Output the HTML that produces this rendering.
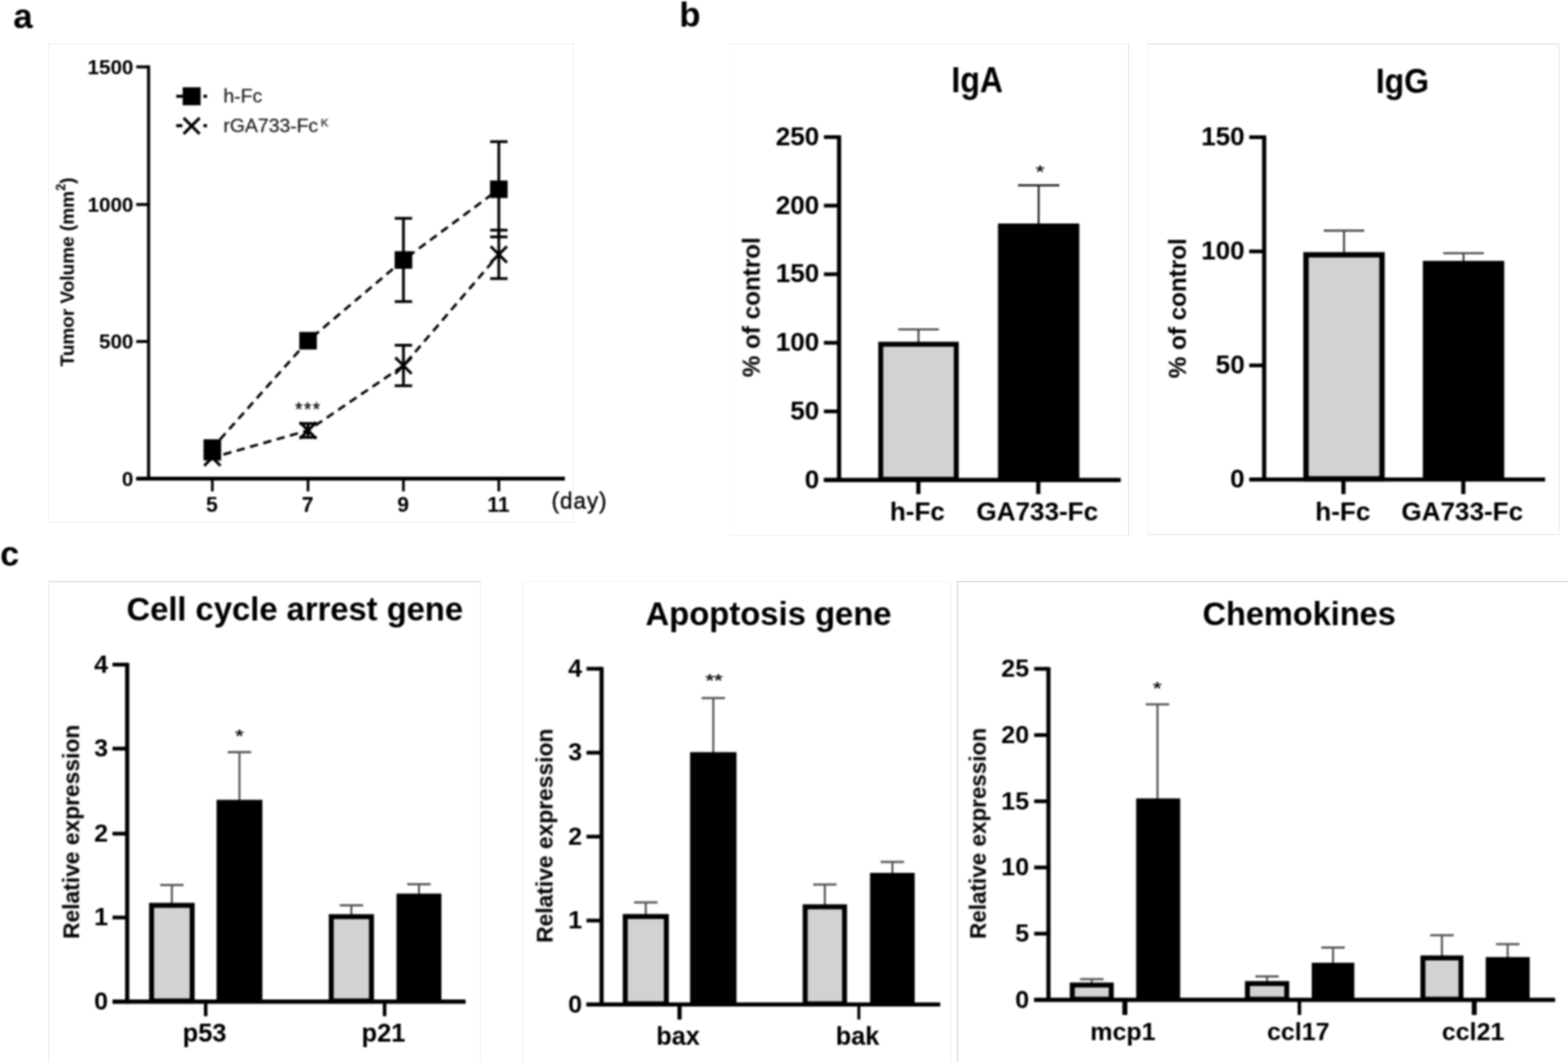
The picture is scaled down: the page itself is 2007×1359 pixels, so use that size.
<!DOCTYPE html>
<html lang="en">
<head>
<meta charset="utf-8">
<title>Figure: tumor volume, IgA/IgG and gene expression</title>
<style>
html, body { margin: 0; padding: 0; background: #ffffff; }
body { width: 2007px; height: 1359px; overflow: hidden; }
svg { display: block; font-family: "Liberation Sans", Arial, Helvetica, sans-serif; }
svg text { font-family: "Liberation Sans", Arial, Helvetica, sans-serif; }
#fig { filter: blur(0.8px); }
</style>
</head>
<body>
<svg width="2007" height="1359" viewBox="0 0 2007 1359">
<rect x="0" y="0" width="2007" height="1359" fill="#ffffff"/>
<g id="frame">
<line x1="62.3" y1="56.3" x2="734.1" y2="56.3" stroke="#f3f3f3" stroke-width="1.5" stroke-linecap="square"/>
<line x1="62.3" y1="668.2" x2="734.1" y2="668.2" stroke="#f3f3f3" stroke-width="1.5" stroke-linecap="square"/>
<line x1="62.3" y1="56.3" x2="62.3" y2="668.2" stroke="#f3f3f3" stroke-width="1.5" stroke-linecap="square"/>
<line x1="734.1" y1="56.3" x2="734.1" y2="668.2" stroke="#f3f3f3" stroke-width="1.5" stroke-linecap="square"/>
<line x1="933.5" y1="55.8" x2="1444.5" y2="55.8" stroke="#f4f4f4" stroke-width="1.5" stroke-linecap="square"/>
<line x1="933.5" y1="685" x2="1444.5" y2="685" stroke="#f4f4f4" stroke-width="1.5" stroke-linecap="square"/>
<line x1="1444.5" y1="55.8" x2="1444.5" y2="685" stroke="#e9e9e9" stroke-width="1.5" stroke-linecap="square"/>
<line x1="933.5" y1="55.8" x2="933.5" y2="685" stroke="#fcfcfc" stroke-width="1.5" stroke-linecap="square"/>
<line x1="1468.8" y1="56.5" x2="1995.6" y2="56.5" stroke="#e4e4e4" stroke-width="1.5" stroke-linecap="square"/>
<line x1="1468.8" y1="684.2" x2="1995.6" y2="684.2" stroke="#efefef" stroke-width="1.5" stroke-linecap="square"/>
<line x1="1995.6" y1="56.5" x2="1995.6" y2="684.2" stroke="#efefef" stroke-width="1.5" stroke-linecap="square"/>
<line x1="1468.8" y1="56.5" x2="1468.8" y2="684.2" stroke="#f6f6f6" stroke-width="1.5" stroke-linecap="square"/>
<line x1="62.5" y1="744.2" x2="614.8" y2="744.2" stroke="#dfdfdf" stroke-width="1.5" stroke-linecap="square"/>
<line x1="62.5" y1="744.2" x2="62.5" y2="1362" stroke="#efefef" stroke-width="1.5" stroke-linecap="square"/>
<line x1="614.8" y1="744.2" x2="614.8" y2="1362" stroke="#f5f5f5" stroke-width="1.5" stroke-linecap="square"/>
<line x1="669" y1="744.3" x2="1216.8" y2="744.3" stroke="#f9f9f9" stroke-width="1.5" stroke-linecap="square"/>
<line x1="669" y1="744.3" x2="669" y2="1362" stroke="#f3f3f3" stroke-width="1.5" stroke-linecap="square"/>
<line x1="1216.8" y1="744.3" x2="1216.8" y2="1362" stroke="#f3f3f3" stroke-width="1.5" stroke-linecap="square"/>
<line x1="1225.5" y1="744.3" x2="2010" y2="744.3" stroke="#dcdcdc" stroke-width="1.5" stroke-linecap="square"/>
<line x1="1225.5" y1="744.3" x2="1225.5" y2="1362" stroke="#dcdcdc" stroke-width="1.5" stroke-linecap="square"/>
</g>
<g id="fig">
<text transform="translate(17 35.5)" font-size="44.5" font-weight="bold" text-anchor="start" fill="#000"  stroke="#000" stroke-width="0.05" stroke-linejoin="round">a</text>
<text transform="translate(869.4 34.2)" font-size="44.5" font-weight="bold" text-anchor="start" fill="#000"  stroke="#000" stroke-width="0.05" stroke-linejoin="round">b</text>
<text transform="translate(0.3 724.3)" font-size="43.5" font-weight="bold" text-anchor="start" fill="#000"  stroke="#000" stroke-width="0.05" stroke-linejoin="round">c</text>
<line x1="190.2" y1="83.8" x2="190.2" y2="614.5" stroke="#000" stroke-width="3.95" />
<line x1="174.4" y1="612.5" x2="723" y2="612.5" stroke="#000" stroke-width="4.95" />
<line x1="174.4" y1="612.5" x2="190.2" y2="612.5" stroke="#000" stroke-width="3.85" />
<text transform="translate(170.8 621.5)" font-size="26.4" font-weight="bold" text-anchor="end" fill="#000"  stroke="#000" stroke-width="0.05" stroke-linejoin="round">0</text>
<line x1="174.4" y1="437" x2="190.2" y2="437" stroke="#000" stroke-width="3.85" />
<text transform="translate(170.8 446)" font-size="26.4" font-weight="bold" text-anchor="end" fill="#000"  stroke="#000" stroke-width="0.05" stroke-linejoin="round">500</text>
<line x1="174.4" y1="261.7" x2="190.2" y2="261.7" stroke="#000" stroke-width="3.85" />
<text transform="translate(170.8 270.7)" font-size="26.4" font-weight="bold" text-anchor="end" fill="#000"  stroke="#000" stroke-width="0.05" stroke-linejoin="round">1000</text>
<line x1="174.4" y1="85.6" x2="190.2" y2="85.6" stroke="#000" stroke-width="3.85" />
<text transform="translate(170.8 94.6)" font-size="26.4" font-weight="bold" text-anchor="end" fill="#000"  stroke="#000" stroke-width="0.05" stroke-linejoin="round">1500</text>
<line x1="271.8" y1="612.5" x2="271.8" y2="628.8" stroke="#000" stroke-width="3.45" />
<text transform="translate(271.3 655)" font-size="27" font-weight="bold" text-anchor="middle" fill="#000"  stroke="#000" stroke-width="0.05" stroke-linejoin="round">5</text>
<line x1="394.3" y1="612.5" x2="394.3" y2="628.8" stroke="#000" stroke-width="3.45" />
<text transform="translate(393.8 655)" font-size="27" font-weight="bold" text-anchor="middle" fill="#000"  stroke="#000" stroke-width="0.05" stroke-linejoin="round">7</text>
<line x1="516.4" y1="612.5" x2="516.4" y2="628.8" stroke="#000" stroke-width="3.45" />
<text transform="translate(515.9 655)" font-size="27" font-weight="bold" text-anchor="middle" fill="#000"  stroke="#000" stroke-width="0.05" stroke-linejoin="round">9</text>
<line x1="638.5" y1="612.5" x2="638.5" y2="628.8" stroke="#000" stroke-width="3.45" />
<text transform="translate(638 655)" font-size="27" font-weight="bold" text-anchor="middle" fill="#000"  stroke="#000" stroke-width="0.05" stroke-linejoin="round">11</text>
<text transform="translate(706 651.3)" font-size="28.8" font-weight="normal" text-anchor="start" fill="#000" letter-spacing="1.2"  stroke="#000" stroke-width="0.45" stroke-linejoin="round">(day)</text>
<text transform="translate(94.5 348) rotate(-90)" font-size="24.3" font-weight="bold" text-anchor="middle" fill="#000"  stroke="#000" stroke-width="0.05" stroke-linejoin="round">Tumor Volume (mm<tspan font-size="16.5" dy="-11.5">2</tspan><tspan dy="11.5">)</tspan></text>
<polyline points="271.8,573.4 394.3,436 516.4,332.7 638.5,242.2" stroke="#000" stroke-width="3.3" stroke-dasharray="10.6 7.1" stroke-dashoffset="3" stroke-linecap="butt" fill="none"/>
<polyline points="271.8,585.6 394.3,550.8 516.4,467.9 638.5,325.6" stroke="#000" stroke-width="3.3" stroke-dasharray="10.6 7.1" stroke-dashoffset="3" stroke-linecap="butt" fill="none"/>
<line x1="516.4" y1="279.4" x2="516.4" y2="385.9" stroke="#000" stroke-width="3.55" />
<line x1="505.25" y1="279.4" x2="527.55" y2="279.4" stroke="#000" stroke-width="3.55" />
<line x1="505.25" y1="385.9" x2="527.55" y2="385.9" stroke="#000" stroke-width="3.55" />
<line x1="638.5" y1="181.3" x2="638.5" y2="303.1" stroke="#000" stroke-width="3.55" />
<line x1="627.35" y1="181.3" x2="649.65" y2="181.3" stroke="#000" stroke-width="3.55" />
<line x1="627.35" y1="303.1" x2="649.65" y2="303.1" stroke="#000" stroke-width="3.55" />
<line x1="394.3" y1="541.9" x2="394.3" y2="559.7" stroke="#000" stroke-width="3.55" />
<line x1="383.15" y1="541.9" x2="405.45" y2="541.9" stroke="#000" stroke-width="3.55" />
<line x1="383.15" y1="559.7" x2="405.45" y2="559.7" stroke="#000" stroke-width="3.55" />
<line x1="271.8" y1="584.2" x2="271.8" y2="587.5" stroke="#000" stroke-width="3.55" />
<line x1="260.65" y1="584.2" x2="282.95" y2="584.2" stroke="#000" stroke-width="3.55" />
<line x1="260.65" y1="587.5" x2="282.95" y2="587.5" stroke="#000" stroke-width="3.55" />
<line x1="516.4" y1="441.8" x2="516.4" y2="493.6" stroke="#000" stroke-width="3.55" />
<line x1="505.25" y1="441.8" x2="527.55" y2="441.8" stroke="#000" stroke-width="3.55" />
<line x1="505.25" y1="493.6" x2="527.55" y2="493.6" stroke="#000" stroke-width="3.55" />
<line x1="638.5" y1="294.5" x2="638.5" y2="356.5" stroke="#000" stroke-width="3.55" />
<line x1="627.35" y1="294.5" x2="649.65" y2="294.5" stroke="#000" stroke-width="3.55" />
<line x1="627.35" y1="356.5" x2="649.65" y2="356.5" stroke="#000" stroke-width="3.55" />
<line x1="261.4" y1="575.2" x2="282.2" y2="596" stroke="#000" stroke-width="3.65" />
<line x1="261.4" y1="596" x2="282.2" y2="575.2" stroke="#000" stroke-width="3.65" />
<line x1="383.9" y1="540.4" x2="404.7" y2="561.2" stroke="#000" stroke-width="3.65" />
<line x1="383.9" y1="561.2" x2="404.7" y2="540.4" stroke="#000" stroke-width="3.65" />
<line x1="506" y1="457.5" x2="526.8" y2="478.3" stroke="#000" stroke-width="3.65" />
<line x1="506" y1="478.3" x2="526.8" y2="457.5" stroke="#000" stroke-width="3.65" />
<line x1="628.1" y1="315.2" x2="648.9" y2="336" stroke="#000" stroke-width="3.65" />
<line x1="628.1" y1="336" x2="648.9" y2="315.2" stroke="#000" stroke-width="3.65" />
<rect x="260.55" y="562.15" width="22.5" height="22.5" fill="#000"/>
<rect x="383.05" y="424.75" width="22.5" height="22.5" fill="#000"/>
<rect x="505.15" y="321.45" width="22.5" height="22.5" fill="#000"/>
<rect x="627.25" y="230.95" width="22.5" height="22.5" fill="#000"/>
<text transform="translate(394.8 531.5)" font-size="23" font-weight="normal" text-anchor="middle" fill="#111" letter-spacing="2.2"  stroke="#111" stroke-width="0.6" stroke-linejoin="round">***</text>
<line x1="225.6" y1="123.2" x2="235" y2="123.2" stroke="#000" stroke-width="3.95" />
<line x1="260.3" y1="123.2" x2="265" y2="123.2" stroke="#000" stroke-width="3.95" />
<rect x="233.8" y="111.7" width="23" height="23" fill="#000"/>
<line x1="225.6" y1="160.8" x2="233.5" y2="160.8" stroke="#000" stroke-width="3.95" />
<line x1="260.3" y1="160.8" x2="265" y2="160.8" stroke="#000" stroke-width="3.95" />
<line x1="235.05" y1="150.85" x2="255.55" y2="171.35" stroke="#000" stroke-width="3.65" />
<line x1="235.05" y1="171.35" x2="255.55" y2="150.85" stroke="#000" stroke-width="3.65" />
<text transform="translate(286 130.8)" font-size="24.8" font-weight="normal" text-anchor="start" fill="#222"  stroke="#222" stroke-width="0.3" stroke-linejoin="round">h-Fc</text>
<text transform="translate(286 168.8)" font-size="24.8" font-weight="normal" text-anchor="start" fill="#222"  stroke="#222" stroke-width="0.3" stroke-linejoin="round">rGA733-Fc</text>
<text transform="translate(410.6 161.8)" font-size="14" font-weight="bold" text-anchor="start" fill="#444" >K</text>
<text transform="translate(1250.8 117.6) scale(0.975 1.09)" font-size="42" font-weight="bold" text-anchor="middle" fill="#000"  stroke="#000" stroke-width="0.05" stroke-linejoin="round">IgA</text>
<line x1="1074" y1="173.15" x2="1074" y2="616.7" stroke="#000" stroke-width="5.35" />
<line x1="1054.6" y1="614.2" x2="1434.5" y2="614.2" stroke="#000" stroke-width="5.35" />
<line x1="1054.6" y1="614.2" x2="1074" y2="614.2" stroke="#000" stroke-width="4.85" />
<text transform="translate(1048.6 624.6)" font-size="33.4" font-weight="bold" text-anchor="end" fill="#000"  stroke="#000" stroke-width="0.05" stroke-linejoin="round">0</text>
<line x1="1054.6" y1="526.44" x2="1074" y2="526.44" stroke="#000" stroke-width="4.85" />
<text transform="translate(1048.6 536.84)" font-size="33.4" font-weight="bold" text-anchor="end" fill="#000"  stroke="#000" stroke-width="0.05" stroke-linejoin="round">50</text>
<line x1="1054.6" y1="438.68" x2="1074" y2="438.68" stroke="#000" stroke-width="4.85" />
<text transform="translate(1048.6 449.08)" font-size="33.4" font-weight="bold" text-anchor="end" fill="#000"  stroke="#000" stroke-width="0.05" stroke-linejoin="round">100</text>
<line x1="1054.6" y1="350.92" x2="1074" y2="350.92" stroke="#000" stroke-width="4.85" />
<text transform="translate(1048.6 361.32)" font-size="33.4" font-weight="bold" text-anchor="end" fill="#000"  stroke="#000" stroke-width="0.05" stroke-linejoin="round">150</text>
<line x1="1054.6" y1="263.16" x2="1074" y2="263.16" stroke="#000" stroke-width="4.85" />
<text transform="translate(1048.6 273.56)" font-size="33.4" font-weight="bold" text-anchor="end" fill="#000"  stroke="#000" stroke-width="0.05" stroke-linejoin="round">200</text>
<line x1="1054.6" y1="175.4" x2="1074" y2="175.4" stroke="#000" stroke-width="4.85" />
<text transform="translate(1048.6 185.8)" font-size="33.4" font-weight="bold" text-anchor="end" fill="#000"  stroke="#000" stroke-width="0.05" stroke-linejoin="round">250</text>
<line x1="1175.5" y1="614.2" x2="1175.5" y2="632.2" stroke="#000" stroke-width="5.35" />
<text transform="translate(1174.2 665.6) scale(1 1.02)" font-size="33.4" font-weight="bold" text-anchor="middle" fill="#000"  stroke="#000" stroke-width="0.05" stroke-linejoin="round">h-Fc</text>
<line x1="1329" y1="614.2" x2="1329" y2="632.2" stroke="#000" stroke-width="5.35" />
<text transform="translate(1327.6 665.6) scale(1 1.02)" font-size="33.4" font-weight="bold" text-anchor="middle" fill="#000"  stroke="#000" stroke-width="0.05" stroke-linejoin="round">GA733-Fc</text>
<line x1="1175.65" y1="421.5" x2="1175.65" y2="438.5" stroke="#333" stroke-width="2.35" />
<line x1="1149.65" y1="421.5" x2="1201.65" y2="421.5" stroke="#444" stroke-width="2.65" />
<rect x="1127.3" y="440.5" width="96.7" height="172.9" fill="#d2d2d2" stroke="#000" stroke-width="6.35"/>
<line x1="1329.45" y1="237.1" x2="1329.45" y2="287" stroke="#111" stroke-width="2.35" />
<line x1="1302.95" y1="237.1" x2="1355.95" y2="237.1" stroke="#222" stroke-width="2.65" />
<rect x="1277.4" y="286" width="104.1" height="328.2" fill="#000"/>
<text transform="translate(1331.2 226.5) scale(1.18 0.92)" font-size="24" font-weight="normal" text-anchor="middle" fill="#111"  stroke="#111" stroke-width="0.6" stroke-linejoin="round">*</text>
<text transform="translate(972.5 393.2) rotate(-90)" font-size="31" font-weight="bold" text-anchor="middle" fill="#000"  stroke="#000" stroke-width="0.05" stroke-linejoin="round">% of control</text>
<text transform="translate(1795 118.5) scale(0.975 1.06)" font-size="42" font-weight="bold" text-anchor="middle" fill="#000"  stroke="#000" stroke-width="0.05" stroke-linejoin="round">IgG</text>
<line x1="1618.1" y1="173.35" x2="1618.1" y2="616.1" stroke="#000" stroke-width="5.35" />
<line x1="1599" y1="613.6" x2="1977.7" y2="613.6" stroke="#000" stroke-width="5.35" />
<line x1="1599" y1="613.6" x2="1618.1" y2="613.6" stroke="#000" stroke-width="4.85" />
<text transform="translate(1593.2 624)" font-size="33.4" font-weight="bold" text-anchor="end" fill="#000"  stroke="#000" stroke-width="0.05" stroke-linejoin="round">0</text>
<line x1="1599" y1="467.6" x2="1618.1" y2="467.6" stroke="#000" stroke-width="4.85" />
<text transform="translate(1593.2 478)" font-size="33.4" font-weight="bold" text-anchor="end" fill="#000"  stroke="#000" stroke-width="0.05" stroke-linejoin="round">50</text>
<line x1="1599" y1="321.7" x2="1618.1" y2="321.7" stroke="#000" stroke-width="4.85" />
<text transform="translate(1593.2 332.1)" font-size="33.4" font-weight="bold" text-anchor="end" fill="#000"  stroke="#000" stroke-width="0.05" stroke-linejoin="round">100</text>
<line x1="1599" y1="175.6" x2="1618.1" y2="175.6" stroke="#000" stroke-width="4.85" />
<text transform="translate(1593.2 186)" font-size="33.4" font-weight="bold" text-anchor="end" fill="#000"  stroke="#000" stroke-width="0.05" stroke-linejoin="round">150</text>
<line x1="1719.6" y1="613.6" x2="1719.6" y2="632.3" stroke="#000" stroke-width="5.35" />
<text transform="translate(1718.8 665.6) scale(1 1.02)" font-size="33.4" font-weight="bold" text-anchor="middle" fill="#000"  stroke="#000" stroke-width="0.05" stroke-linejoin="round">h-Fc</text>
<line x1="1873" y1="613.6" x2="1873" y2="632.3" stroke="#000" stroke-width="5.35" />
<text transform="translate(1871.6 665.6) scale(1 1.02)" font-size="33.4" font-weight="bold" text-anchor="middle" fill="#000"  stroke="#000" stroke-width="0.05" stroke-linejoin="round">GA733-Fc</text>
<line x1="1720.3" y1="295.1" x2="1720.3" y2="323.8" stroke="#333" stroke-width="2.35" />
<line x1="1694.3" y1="295.1" x2="1746.3" y2="295.1" stroke="#444" stroke-width="2.65" />
<rect x="1671.65" y="326.05" width="97.3" height="286.75" fill="#d2d2d2" stroke="#000" stroke-width="6.85"/>
<line x1="1873.3" y1="324" x2="1873.3" y2="334.8" stroke="#333" stroke-width="2.35" />
<line x1="1847.3" y1="324" x2="1899.3" y2="324" stroke="#444" stroke-width="2.65" />
<rect x="1821.2" y="333.8" width="104.2" height="279.8" fill="#000"/>
<text transform="translate(1518 394.5) rotate(-90)" font-size="31" font-weight="bold" text-anchor="middle" fill="#000"  stroke="#000" stroke-width="0.05" stroke-linejoin="round">% of control</text>
<text transform="translate(377.3 793.5)" font-size="41.9" font-weight="bold" text-anchor="middle" fill="#000"  stroke="#000" stroke-width="0.05" stroke-linejoin="round">Cell cycle arrest gene</text>
<line x1="162.8" y1="848.25" x2="162.8" y2="1284.2" stroke="#000" stroke-width="5.35" />
<line x1="144" y1="1281.7" x2="596" y2="1281.7" stroke="#000" stroke-width="5.35" />
<line x1="144" y1="1281.7" x2="162.8" y2="1281.7" stroke="#000" stroke-width="4.85" />
<text transform="translate(138.3 1291.9)" font-size="32" font-weight="bold" text-anchor="end" fill="#000"  stroke="#000" stroke-width="0.05" stroke-linejoin="round">0</text>
<line x1="144" y1="1174.1" x2="162.8" y2="1174.1" stroke="#000" stroke-width="4.85" />
<text transform="translate(138.3 1184.3)" font-size="32" font-weight="bold" text-anchor="end" fill="#000"  stroke="#000" stroke-width="0.05" stroke-linejoin="round">1</text>
<line x1="144" y1="1066.8" x2="162.8" y2="1066.8" stroke="#000" stroke-width="4.85" />
<text transform="translate(138.3 1077)" font-size="32" font-weight="bold" text-anchor="end" fill="#000"  stroke="#000" stroke-width="0.05" stroke-linejoin="round">2</text>
<line x1="144" y1="958" x2="162.8" y2="958" stroke="#000" stroke-width="4.85" />
<text transform="translate(138.3 968.2)" font-size="32" font-weight="bold" text-anchor="end" fill="#000"  stroke="#000" stroke-width="0.05" stroke-linejoin="round">3</text>
<line x1="144" y1="850.5" x2="162.8" y2="850.5" stroke="#000" stroke-width="4.85" />
<text transform="translate(138.3 860.7)" font-size="32" font-weight="bold" text-anchor="end" fill="#000"  stroke="#000" stroke-width="0.05" stroke-linejoin="round">4</text>
<line x1="263.3" y1="1281.7" x2="263.3" y2="1300.4" stroke="#000" stroke-width="4.55" />
<text transform="translate(261.9 1332.6)" font-size="32.6" font-weight="bold" text-anchor="middle" fill="#000"  stroke="#000" stroke-width="0.05" stroke-linejoin="round">p53</text>
<line x1="492.3" y1="1281.7" x2="492.3" y2="1300.4" stroke="#000" stroke-width="4.55" />
<text transform="translate(490.8 1332.6)" font-size="32.6" font-weight="bold" text-anchor="middle" fill="#000"  stroke="#000" stroke-width="0.05" stroke-linejoin="round">p21</text>
<line x1="220" y1="1132.5" x2="220" y2="1156.5" stroke="#484848" stroke-width="2.45" />
<line x1="205" y1="1132.5" x2="235" y2="1132.5" stroke="#585858" stroke-width="2.85" />
<rect x="194" y="1158.5" width="52" height="122.4" fill="#d2d2d2" stroke="#000" stroke-width="6.35"/>
<line x1="306.5" y1="962.5" x2="306.5" y2="1024.5" stroke="#484848" stroke-width="2.45" />
<line x1="291.5" y1="962.5" x2="321.5" y2="962.5" stroke="#585858" stroke-width="2.85" />
<rect x="277.2" y="1023.5" width="58.6" height="258.2" fill="#000"/>
<line x1="449.75" y1="1158.5" x2="449.75" y2="1171" stroke="#484848" stroke-width="2.45" />
<line x1="434.75" y1="1158.5" x2="464.75" y2="1158.5" stroke="#585858" stroke-width="2.85" />
<rect x="424" y="1173" width="51.5" height="107.9" fill="#d2d2d2" stroke="#000" stroke-width="6.35"/>
<line x1="536.25" y1="1131.5" x2="536.25" y2="1144.5" stroke="#484848" stroke-width="2.45" />
<line x1="521.25" y1="1131.5" x2="551.25" y2="1131.5" stroke="#585858" stroke-width="2.85" />
<rect x="507.5" y="1143.5" width="57.5" height="138.2" fill="#000"/>
<text transform="translate(306.5 949) scale(1.18 0.92)" font-size="24" font-weight="normal" text-anchor="middle" fill="#111"  stroke="#111" stroke-width="0.6" stroke-linejoin="round">*</text>
<text transform="translate(101.3 1064.5) rotate(-90)" font-size="29.2" font-weight="bold" text-anchor="middle" fill="#000"  stroke="#000" stroke-width="0.05" stroke-linejoin="round">Relative expression</text>
<text transform="translate(983.7 799.6)" font-size="42" font-weight="bold" text-anchor="middle" fill="#000"  stroke="#000" stroke-width="0.05" stroke-linejoin="round">Apoptosis gene</text>
<line x1="770" y1="853.55" x2="770" y2="1287.9" stroke="#000" stroke-width="5.35" />
<line x1="750.7" y1="1285.4" x2="1203.5" y2="1285.4" stroke="#000" stroke-width="5.35" />
<line x1="750.7" y1="1285.4" x2="770" y2="1285.4" stroke="#000" stroke-width="4.85" />
<text transform="translate(745.1 1295.6)" font-size="32" font-weight="bold" text-anchor="end" fill="#000"  stroke="#000" stroke-width="0.05" stroke-linejoin="round">0</text>
<line x1="750.7" y1="1178" x2="770" y2="1178" stroke="#000" stroke-width="4.85" />
<text transform="translate(745.1 1188.2)" font-size="32" font-weight="bold" text-anchor="end" fill="#000"  stroke="#000" stroke-width="0.05" stroke-linejoin="round">1</text>
<line x1="750.7" y1="1070.6" x2="770" y2="1070.6" stroke="#000" stroke-width="4.85" />
<text transform="translate(745.1 1080.8)" font-size="32" font-weight="bold" text-anchor="end" fill="#000"  stroke="#000" stroke-width="0.05" stroke-linejoin="round">2</text>
<line x1="750.7" y1="963.2" x2="770" y2="963.2" stroke="#000" stroke-width="4.85" />
<text transform="translate(745.1 973.4)" font-size="32" font-weight="bold" text-anchor="end" fill="#000"  stroke="#000" stroke-width="0.05" stroke-linejoin="round">3</text>
<line x1="750.7" y1="855.8" x2="770" y2="855.8" stroke="#000" stroke-width="4.85" />
<text transform="translate(745.1 866)" font-size="32" font-weight="bold" text-anchor="end" fill="#000"  stroke="#000" stroke-width="0.05" stroke-linejoin="round">4</text>
<line x1="869.8" y1="1285.4" x2="869.8" y2="1304.7" stroke="#000" stroke-width="5.35" />
<text transform="translate(867.8 1337)" font-size="32.3" font-weight="bold" text-anchor="middle" fill="#000"  stroke="#000" stroke-width="0.05" stroke-linejoin="round">bax</text>
<line x1="1099.3" y1="1285.4" x2="1099.3" y2="1304.7" stroke="#000" stroke-width="3.75" />
<text transform="translate(1097.7 1337)" font-size="32.3" font-weight="bold" text-anchor="middle" fill="#000"  stroke="#000" stroke-width="0.05" stroke-linejoin="round">bak</text>
<line x1="826.6" y1="1154.8" x2="826.6" y2="1170.8" stroke="#484848" stroke-width="2.45" />
<line x1="811.6" y1="1154.8" x2="841.6" y2="1154.8" stroke="#585858" stroke-width="2.85" />
<rect x="800.3" y="1172.8" width="52.6" height="111.8" fill="#d2d2d2" stroke="#000" stroke-width="6.35"/>
<line x1="913" y1="893.3" x2="913" y2="963.5" stroke="#484848" stroke-width="2.45" />
<line x1="898" y1="893.3" x2="928" y2="893.3" stroke="#585858" stroke-width="2.85" />
<rect x="883.3" y="962.5" width="59.4" height="322.9" fill="#000"/>
<line x1="1055.8" y1="1131.9" x2="1055.8" y2="1158.4" stroke="#484848" stroke-width="2.45" />
<line x1="1040.8" y1="1131.9" x2="1070.8" y2="1131.9" stroke="#585858" stroke-width="2.85" />
<rect x="1030.6" y="1160.4" width="50.4" height="124.2" fill="#d2d2d2" stroke="#000" stroke-width="6.35"/>
<line x1="1142.2" y1="1103" x2="1142.2" y2="1118" stroke="#484848" stroke-width="2.45" />
<line x1="1127.2" y1="1103" x2="1157.2" y2="1103" stroke="#585858" stroke-width="2.85" />
<rect x="1113.6" y="1117" width="57.2" height="168.4" fill="#000"/>
<text transform="translate(914 877.6) scale(1.18 0.92)" font-size="24" font-weight="normal" text-anchor="middle" fill="#111"  stroke="#111" stroke-width="0.6" stroke-linejoin="round">**</text>
<text transform="translate(707.3 1069.5) rotate(-90)" font-size="29.2" font-weight="bold" text-anchor="middle" fill="#000"  stroke="#000" stroke-width="0.05" stroke-linejoin="round">Relative expression</text>
<text transform="translate(1662.9 799.8)" font-size="41.6" font-weight="bold" text-anchor="middle" fill="#000"  stroke="#000" stroke-width="0.05" stroke-linejoin="round">Chemokines</text>
<line x1="1342" y1="853.65" x2="1342" y2="1282" stroke="#000" stroke-width="5.35" />
<line x1="1323.7" y1="1279.5" x2="1990.5" y2="1279.5" stroke="#000" stroke-width="5.35" />
<line x1="1323.7" y1="1279.5" x2="1342" y2="1279.5" stroke="#000" stroke-width="4.85" />
<text transform="translate(1317.2 1289.7)" font-size="32" font-weight="bold" text-anchor="end" fill="#000"  stroke="#000" stroke-width="0.05" stroke-linejoin="round">0</text>
<line x1="1323.7" y1="1194.78" x2="1342" y2="1194.78" stroke="#000" stroke-width="4.85" />
<text transform="translate(1317.2 1204.98)" font-size="32" font-weight="bold" text-anchor="end" fill="#000"  stroke="#000" stroke-width="0.05" stroke-linejoin="round">5</text>
<line x1="1323.7" y1="1110.06" x2="1342" y2="1110.06" stroke="#000" stroke-width="4.85" />
<text transform="translate(1317.2 1120.26)" font-size="32" font-weight="bold" text-anchor="end" fill="#000"  stroke="#000" stroke-width="0.05" stroke-linejoin="round">10</text>
<line x1="1323.7" y1="1025.34" x2="1342" y2="1025.34" stroke="#000" stroke-width="4.85" />
<text transform="translate(1317.2 1035.54)" font-size="32" font-weight="bold" text-anchor="end" fill="#000"  stroke="#000" stroke-width="0.05" stroke-linejoin="round">15</text>
<line x1="1323.7" y1="940.62" x2="1342" y2="940.62" stroke="#000" stroke-width="4.85" />
<text transform="translate(1317.2 950.82)" font-size="32" font-weight="bold" text-anchor="end" fill="#000"  stroke="#000" stroke-width="0.05" stroke-linejoin="round">20</text>
<line x1="1323.7" y1="855.9" x2="1342" y2="855.9" stroke="#000" stroke-width="4.85" />
<text transform="translate(1317.2 866.1)" font-size="32" font-weight="bold" text-anchor="end" fill="#000"  stroke="#000" stroke-width="0.05" stroke-linejoin="round">25</text>
<line x1="1439.8" y1="1279.5" x2="1439.8" y2="1298.8" stroke="#000" stroke-width="6.35" />
<text transform="translate(1437.3 1331.4)" font-size="32" font-weight="bold" text-anchor="middle" fill="#000"  stroke="#000" stroke-width="0.05" stroke-linejoin="round">mcp1</text>
<line x1="1663.2" y1="1279.5" x2="1663.2" y2="1298.8" stroke="#000" stroke-width="4.55" />
<text transform="translate(1661.7 1331.4)" font-size="32" font-weight="bold" text-anchor="middle" fill="#000"  stroke="#000" stroke-width="0.05" stroke-linejoin="round">ccl17</text>
<line x1="1887" y1="1279.5" x2="1887" y2="1298.8" stroke="#000" stroke-width="6.35" />
<text transform="translate(1885.5 1331.4)" font-size="32" font-weight="bold" text-anchor="middle" fill="#000"  stroke="#000" stroke-width="0.05" stroke-linejoin="round">ccl21</text>
<line x1="1397.45" y1="1253" x2="1397.45" y2="1258.5" stroke="#484848" stroke-width="2.45" />
<line x1="1382.45" y1="1253" x2="1412.45" y2="1253" stroke="#585858" stroke-width="2.85" />
<rect x="1372.5" y="1260.5" width="49.9" height="18.2" fill="#d2d2d2" stroke="#000" stroke-width="6.35"/>
<line x1="1481.55" y1="901.3" x2="1481.55" y2="1022.7" stroke="#484848" stroke-width="2.45" />
<line x1="1466.55" y1="901.3" x2="1496.55" y2="901.3" stroke="#585858" stroke-width="2.85" />
<rect x="1454.3" y="1021.7" width="56.3" height="257.8" fill="#000"/>
<line x1="1621.85" y1="1249.5" x2="1621.85" y2="1256.6" stroke="#484848" stroke-width="2.45" />
<line x1="1606.85" y1="1249.5" x2="1636.85" y2="1249.5" stroke="#585858" stroke-width="2.85" />
<rect x="1596.7" y="1258.6" width="50.3" height="20.1" fill="#d2d2d2" stroke="#000" stroke-width="6.35"/>
<line x1="1706.25" y1="1212.6" x2="1706.25" y2="1233" stroke="#484848" stroke-width="2.45" />
<line x1="1691.25" y1="1212.6" x2="1721.25" y2="1212.6" stroke="#585858" stroke-width="2.85" />
<rect x="1679" y="1232" width="54.5" height="47.5" fill="#000"/>
<line x1="1845.65" y1="1196.8" x2="1845.65" y2="1223.8" stroke="#484848" stroke-width="2.45" />
<line x1="1830.65" y1="1196.8" x2="1860.65" y2="1196.8" stroke="#585858" stroke-width="2.85" />
<rect x="1821.3" y="1225.8" width="48.7" height="52.9" fill="#d2d2d2" stroke="#000" stroke-width="6.35"/>
<line x1="1929.85" y1="1208.2" x2="1929.85" y2="1225.7" stroke="#484848" stroke-width="2.45" />
<line x1="1914.85" y1="1208.2" x2="1944.85" y2="1208.2" stroke="#585858" stroke-width="2.85" />
<rect x="1901.7" y="1224.7" width="56.3" height="54.8" fill="#000"/>
<text transform="translate(1481.3 887.6) scale(1.18 0.92)" font-size="24" font-weight="normal" text-anchor="middle" fill="#111"  stroke="#111" stroke-width="0.6" stroke-linejoin="round">*</text>
<text transform="translate(1261.8 1066.6) rotate(-90) scale(0.985 1)" font-size="29.2" font-weight="bold" text-anchor="middle" fill="#000"  stroke="#000" stroke-width="0.05" stroke-linejoin="round">Relative expression</text>
</g>

</svg>
</body>
</html>
